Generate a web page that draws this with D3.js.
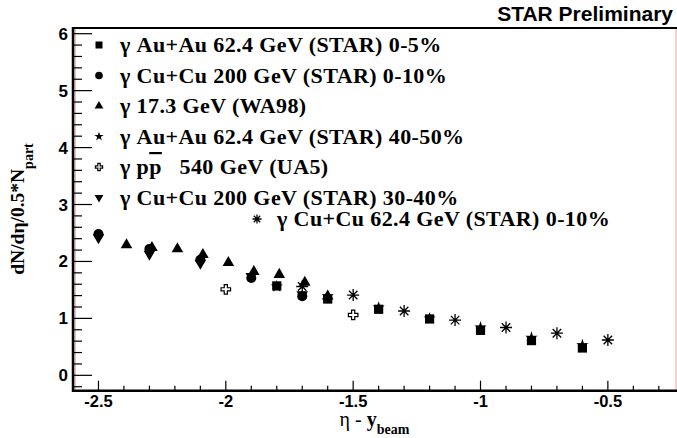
<html>
<script src="https://d3js.org/d3.v7.min.js"></script>
<style>
  body { margin: 0; background: #fff; }
</style>
<body>
<div id="chart_area"></div>
</body>
<script>

// ---- values ----
var auau624_x = [-1.8, -1.6, -1.4, -1.2, -1.0, -0.8, -0.6];
var auau624_y = [1.57, 1.34, 1.16, 0.99, 0.79, 0.61, 0.48];

var cucu200_x = [-2.5, -2.3, -2.1, -1.9, -1.7];
var cucu200_y = [2.48, 2.22, 2.03, 1.71, 1.39];

var wa98_x = [-2.39, -2.29, -2.19, -2.09, -1.99, -1.89, -1.79, -1.69, -1.6];
var wa98_y = [2.29, 2.24, 2.22, 2.12, 1.98, 1.82, 1.77, 1.63, 1.39];

var auau624p_x = [-1.8, -1.6, -1.4, -1.2, -1.0, -0.8, -0.6];
var auau624p_y = [1.56, 1.39, 1.19, 1.0, 0.84, 0.66, 0.53];

var ua5_x = [-2.0, -1.5];
var ua5_y = [1.51, 1.06];

var cucu200p_x = [-2.5, -2.3, -2.1, -1.9, -1.7];
var cucu200p_y = [2.42, 2.13, 1.97, 1.74, 1.42];

var cucu624_x = [-1.7, -1.5, -1.3, -1.1, -0.9, -0.7, -0.5];
var cucu624_y = [1.56, 1.41, 1.13, 0.97, 0.84, 0.74, 0.62];

var yTicks = [0, 1, 2, 3, 4, 5, 6];
var xTicks = [-2.5, -2, -1.5, -1, -0.5];

// ---- geometry ----
var W = 677, H = 438;
var padL = 73, padR = 676, padT = 28, padB = 390.7;

var svg = d3.select("#chart_area").append("svg")
    .attr("width", W).attr("height", H)
    .style("display", "block");

var x = d3.scaleLinear().domain([-2.6, -0.2]).range([padL, padL + 2.4 * 254.7]);
var y = d3.scaleLinear().domain([-0.27, 6.1]).range([padB, padT]);

// frame
svg.append("line").attr("x1", padR).attr("x2", padR).attr("y1", padT).attr("y2", padB)
    .attr("stroke", "#f2a0a0").attr("stroke-width", 1);
svg.append("line").attr("x1", padL + 2).attr("x2", padL + 2).attr("y1", padT).attr("y2", padB)
    .attr("stroke", "#c07070").attr("stroke-width", 0.8);
svg.append("line").attr("x1", padL).attr("x2", W).attr("y1", padT).attr("y2", padT)
    .attr("stroke", "#000").attr("stroke-width", 2);

var tickFont = "Liberation Sans, Arial, sans-serif";

// y axis
var yAxis = svg.append("g");
yAxis.append("line").attr("x1", padL).attr("x2", padL).attr("y1", padT - 1).attr("y2", padB + 1)
    .attr("stroke", "#000").attr("stroke-width", 2.5);
var yMinor = d3.range(-0.2, 6.01, 0.2).map(function(v){ return Math.round(v * 10) / 10; });
yAxis.selectAll(".ymin").data(yMinor).enter().append("line")
    .attr("x1", padL).attr("x2", function(d){ return yTicks.indexOf(d) >= 0 ? padL + 19 : padL + 9; })
    .attr("y1", function(d){ return y(d); }).attr("y2", function(d){ return y(d); })
    .attr("stroke", "#000").attr("stroke-width", 1.2);
yAxis.selectAll(".ylab").data(yTicks).enter().append("text")
    .attr("x", padL - 5).attr("y", function(d){ return y(d) + 6; })
    .attr("text-anchor", "end")
    .style("font-family", tickFont).style("font-weight", "bold").style("font-size", "17px")
    .text(function(d){ return d; });

// x axis
var xAxis = svg.append("g");
xAxis.append("line").attr("x1", padL - 1).attr("x2", W).attr("y1", padB).attr("y2", padB)
    .attr("stroke", "#000").attr("stroke-width", 2.5);
var xMinor = d3.range(-2.6, -0.19, 0.1).map(function(v){ return Math.round(v * 10) / 10; });
xAxis.selectAll(".xmin").data(xMinor).enter().append("line")
    .attr("x1", function(d){ return x(d); }).attr("x2", function(d){ return x(d); })
    .attr("y1", padB).attr("y2", function(d){ return xTicks.indexOf(d) >= 0 ? padB - 10 : padB - 5; })
    .attr("stroke", "#000").attr("stroke-width", 1.2);
xAxis.selectAll(".xlab").data(xTicks).enter().append("text")
    .attr("x", function(d){ return x(d); }).attr("y", 407)
    .attr("text-anchor", "middle")
    .style("font-family", tickFont).style("font-weight", "bold").style("font-size", "16.5px")
    .text(function(d){ return d; });

// axis titles
var xt = svg.append("text").attr("x", (padL + padR) / 2).attr("y", 426).attr("text-anchor", "middle")
    .style("font-family", "Liberation Serif, Times New Roman, serif").style("font-size", "20px");
xt.append("tspan").text("\u03b7 - ");
xt.append("tspan").style("font-weight", "bold").text("y");
xt.append("tspan").attr("dy", 8).style("font-size", "14px").style("font-weight", "bold").text("beam");

var yt = svg.append("text").attr("transform", "translate(24,209) rotate(-90)").attr("text-anchor", "middle")
    .style("font-family", "Liberation Serif, Times New Roman, serif").style("font-weight", "bold").style("font-size", "19.5px");
yt.append("tspan").text("dN/d\u03b7/0.5*N");
yt.append("tspan").attr("dy", 9).style("font-size", "14px").text("part");

svg.append("text").attr("x", 673).attr("y", 21).attr("text-anchor", "end")
    .style("font-family", tickFont).style("font-weight", "bold").style("font-size", "21px")
    .text("STAR Preliminary");

// ---- markers ----
function crossPath(s) {
  var a = s / 2, b = s / 6;
  return "M" + (-b) + "," + (-a) + "H" + b + "V" + (-b) + "H" + a + "V" + b + "H" + b + "V" + a +
         "H" + (-b) + "V" + b + "H" + (-a) + "V" + (-b) + "H" + (-b) + "Z";
}
function asteriskPath(r) {
  var d = r * Math.SQRT1_2;
  return "M" + (-r) + ",0H" + r + "M0," + (-r) + "V" + r +
         "M" + (-d) + "," + (-d) + "L" + d + "," + d + "M" + (-d) + "," + d + "L" + d + "," + (-d);
}

function drawMarker(g, kind, big) {
  var k = big ? 1 : 0.76;
  if (kind === "square") {
    g.append("path").attr("d", d3.symbol(d3.symbolSquare, 85 * k * k)()).attr("fill", "#000");
  } else if (kind === "circle") {
    g.append("path").attr("d", d3.symbol(d3.symbolCircle, 80 * k * k)()).attr("fill", "#000");
  } else if (kind === "triangle") {
    g.append("path").attr("d", d3.symbol(d3.symbolTriangle, 58 * k * k)()).attr("fill", "#000");
  } else if (kind === "star") {
    g.append("path").attr("d", d3.symbol(d3.symbolStar, 46 * k * k)()).attr("fill", "#000");
  } else if (kind === "cross") {
    g.append("path").attr("d", crossPath(9.5 * k)).attr("fill", "#fff").attr("stroke", "#000").attr("stroke-width", 1.2);
  } else if (kind === "tridown") {
    g.append("path").attr("d", d3.symbol(d3.symbolTriangle, 58 * k * k)()).attr("transform", "rotate(180)").attr("fill", "#000");
  } else if (kind === "asterisk") {
    g.append("path").attr("d", asteriskPath(6 * k)).attr("fill", "none").attr("stroke", "#000").attr("stroke-width", 1.3);
  }
}

var series = [
  { xs: auau624_x,  ys: auau624_y,  kind: "square",   label: "\u03b3 Au+Au 62.4 GeV (STAR) 0-5%" },
  { xs: cucu200_x,  ys: cucu200_y,  kind: "circle",   label: "\u03b3 Cu+Cu 200 GeV (STAR) 0-10%" },
  { xs: wa98_x,     ys: wa98_y,     kind: "triangle", label: "\u03b3 17.3 GeV (WA98)" },
  { xs: auau624p_x, ys: auau624p_y, kind: "star",     label: "\u03b3 Au+Au 62.4 GeV (STAR) 40-50%" },
  { xs: ua5_x,      ys: ua5_y,      kind: "cross",    label: "pp" },
  { xs: cucu200p_x, ys: cucu200p_y, kind: "tridown",  label: "\u03b3 Cu+Cu 200 GeV (STAR) 30-40%" },
  { xs: cucu624_x,  ys: cucu624_y,  kind: "asterisk", label: "\u03b3 Cu+Cu 62.4 GeV (STAR) 0-10%" }
];

var plot = svg.append("g");
series.forEach(function(s) {
  s.xs.forEach(function(xv, i) {
    var g = plot.append("g").attr("transform", "translate(" + x(xv) + "," + y(s.ys[i]) + ")");
    drawMarker(g, s.kind, true);
  });
});

// ---- legend ----
var legFont = "Liberation Serif, Times New Roman, serif";
series.forEach(function(s, i) {
  var mx = i < 6 ? 99 : 257, tx = i < 6 ? 120 : 277;
  var by = i < 6 ? 52 + i * 30.5 : 226;
  var g = svg.append("g").attr("transform", "translate(" + mx + "," + (by - 7) + ")");
  drawMarker(g, s.kind, false);
  var t = svg.append("text").attr("x", tx).attr("y", by)
      .style("font-family", legFont).style("font-weight", "bold").style("font-size", "22px")
      .style("letter-spacing", "0.4px");
  if (s.kind === "cross") {
    t.append("tspan").text("\u03b3 p");
    t.append("tspan").style("text-decoration", "overline").text("p");
    t.append("tspan").attr("xml:space", "preserve").text("   540 GeV (UA5)");
  } else {
    t.text(s.label);
  }
});

</script>
</html>
